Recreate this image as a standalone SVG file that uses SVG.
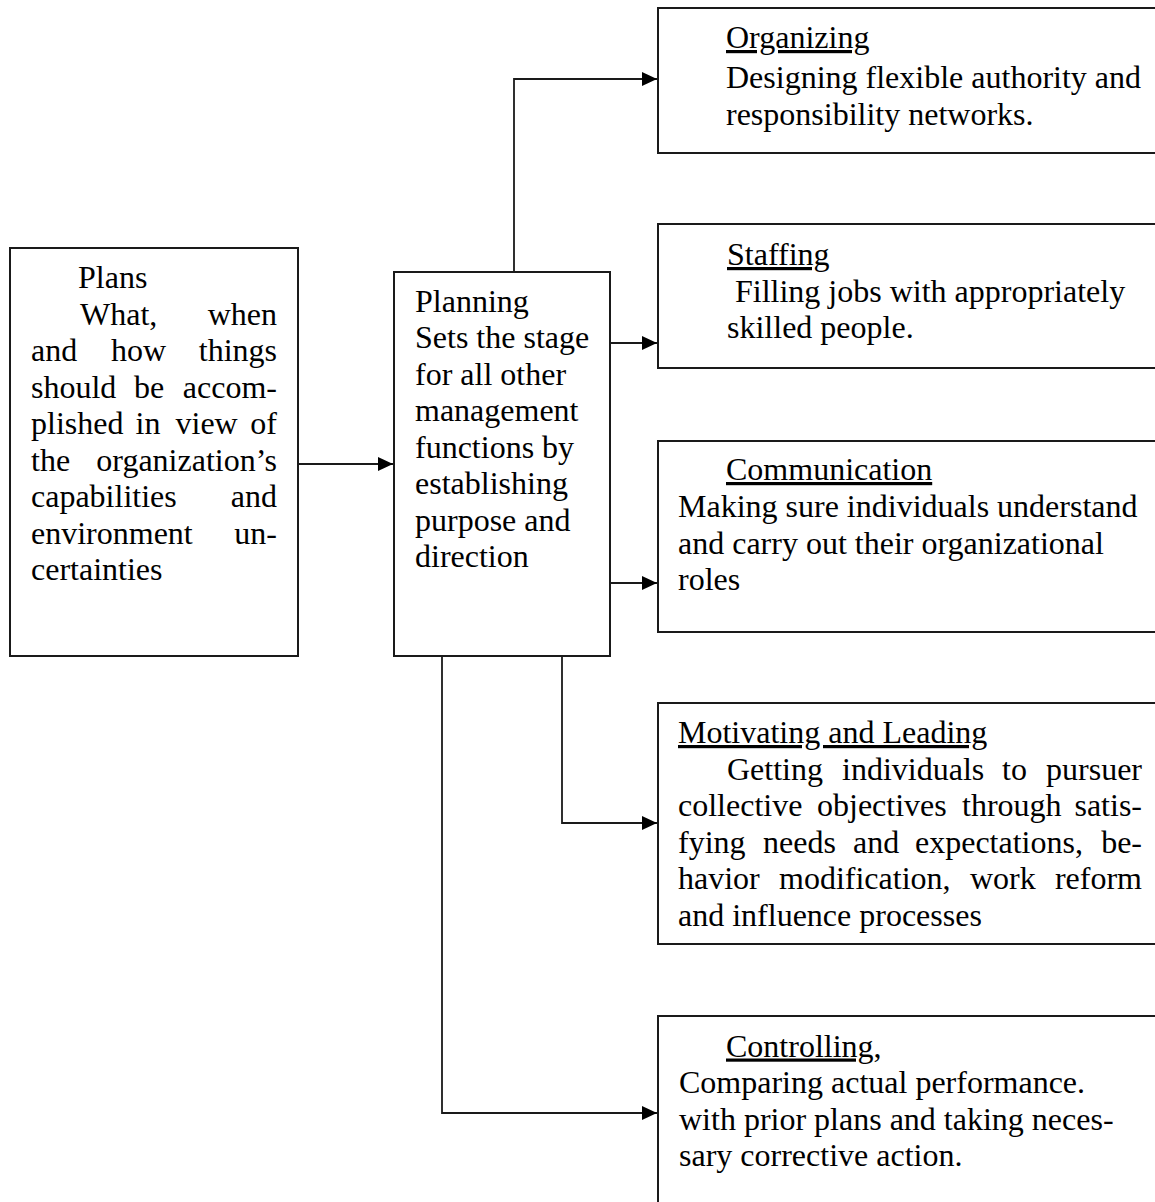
<svg xmlns="http://www.w3.org/2000/svg" width="1155" height="1202" viewBox="0 0 1155 1202">
<style>
  .box { fill: #fff; stroke: #1a1a1a; stroke-width: 2; }
  .t { font-family: "Liberation Serif", "Times New Roman", serif; font-size: 32px; fill: #000; }
  .e { text-anchor: end; }
  .u { text-decoration: underline; }
  .c { fill: none; stroke: #1a1a1a; stroke-width: 1.8; }
</style>
<defs>
  <marker id="ah" viewBox="0 0 15 14" refX="15" refY="7" markerWidth="15" markerHeight="14" markerUnits="userSpaceOnUse" orient="auto">
    <path d="M0,0 L15,7 L0,14 Z" fill="#000"/>
  </marker>
</defs>
<rect width="1155" height="1202" fill="#fff"/>

<g id="connectors">
  <path class="c" d="M298,464 H393" marker-end="url(#ah)"/>
  <path class="c" d="M514,272 V79 H657" marker-end="url(#ah)"/>
  <path class="c" d="M610,343 H657" marker-end="url(#ah)"/>
  <path class="c" d="M610,583 H657" marker-end="url(#ah)"/>
  <path class="c" d="M562,656 V823 H657" marker-end="url(#ah)"/>
  <path class="c" d="M442,656 V1113 H657" marker-end="url(#ah)"/>
</g>

<g id="plans">
  <rect class="box" x="10" y="248" width="288" height="408"/>
  <text class="t" x="78" y="288">Plans</text>
  <text class="t" x="80" y="324.5">What,</text>
  <text class="t e" x="277" y="324.5">when</text>
  <text class="t" x="31" y="361">and</text>
  <text class="t" x="111" y="361">how</text>
  <text class="t e" x="277" y="361">things</text>
  <text class="t" x="31" y="397.5">should</text>
  <text class="t" x="134" y="397.5">be</text>
  <text class="t e" x="277" y="397.5">accom-</text>
  <text class="t" x="31" y="434">plished</text>
  <text class="t" x="135.5" y="434">in</text>
  <text class="t" x="175.5" y="434">view</text>
  <text class="t e" x="277" y="434">of</text>
  <text class="t" x="31" y="470.5">the</text>
  <text class="t e" x="277" y="470.5">organization’s</text>
  <text class="t" x="31" y="507">capabilities</text>
  <text class="t e" x="277" y="507">and</text>
  <text class="t" x="31" y="543.5">environment</text>
  <text class="t e" x="277" y="543.5">un-</text>
  <text class="t" x="31" y="580">certainties</text>
</g>

<g id="planning">
  <rect class="box" x="394" y="272" width="216" height="384"/>
  <text class="t" x="415" y="311.5">Planning</text>
  <text class="t" x="415" y="348">Sets the stage</text>
  <text class="t" x="415" y="384.5">for all other</text>
  <text class="t" x="415" y="421">management</text>
  <text class="t" x="415" y="457.5">functions by</text>
  <text class="t" x="415" y="494">establishing</text>
  <text class="t" x="415" y="530.5">purpose and</text>
  <text class="t" x="415" y="567">direction</text>
</g>

<g id="organizing">
  <rect class="box" x="658" y="8" width="510" height="145"/>
  <text class="t u" x="726" y="48">Organizing</text>
  <text class="t" x="726" y="88">Designing flexible authority and</text>
  <text class="t" x="726" y="125">responsibility networks.</text>
</g>

<g id="staffing">
  <rect class="box" x="658" y="224" width="510" height="144"/>
  <text class="t u" x="727" y="265">Staffing</text>
  <text class="t" x="735" y="301.5">Filling jobs with appropriately</text>
  <text class="t" x="727" y="338">skilled people.</text>
</g>

<g id="communication">
  <rect class="box" x="658" y="441" width="510" height="191"/>
  <text class="t u" x="726" y="480">Communication</text>
  <text class="t" x="678" y="517">Making sure individuals understand</text>
  <text class="t" x="678" y="553.5">and carry out their organizational</text>
  <text class="t" x="678" y="590">roles</text>
</g>

<g id="motivating">
  <rect class="box" x="658" y="703" width="510" height="241"/>
  <text class="t u" x="678" y="743">Motivating and Leading</text>
  <text class="t" x="727" y="779.5">Getting</text>
  <text class="t" x="842" y="779.5">individuals</text>
  <text class="t" x="1002" y="779.5">to</text>
  <text class="t e" x="1142" y="779.5">pursuer</text>
  <text class="t" x="678" y="816">collective</text>
  <text class="t" x="817" y="816">objectives</text>
  <text class="t" x="962" y="816">through</text>
  <text class="t e" x="1142" y="816">satis-</text>
  <text class="t" x="678" y="852.5">fying</text>
  <text class="t" x="763" y="852.5">needs</text>
  <text class="t" x="853" y="852.5">and</text>
  <text class="t" x="915" y="852.5">expectations,</text>
  <text class="t e" x="1142" y="852.5">be-</text>
  <text class="t" x="678" y="889">havior</text>
  <text class="t" x="779" y="889">modification,</text>
  <text class="t" x="970" y="889">work</text>
  <text class="t e" x="1142" y="889">reform</text>
  <text class="t" x="678" y="925.5">and influence processes</text>
</g>

<g id="controlling">
  <rect class="box" x="658" y="1016" width="510" height="200"/>
  <text class="t" x="726" y="1056.5"><tspan class="u">Controlling</tspan>,</text>
  <text class="t" x="679" y="1093">Comparing actual performance.</text>
  <text class="t" x="679" y="1129.5">with prior plans and taking neces-</text>
  <text class="t" x="679" y="1166">sary corrective action.</text>
</g>
</svg>
